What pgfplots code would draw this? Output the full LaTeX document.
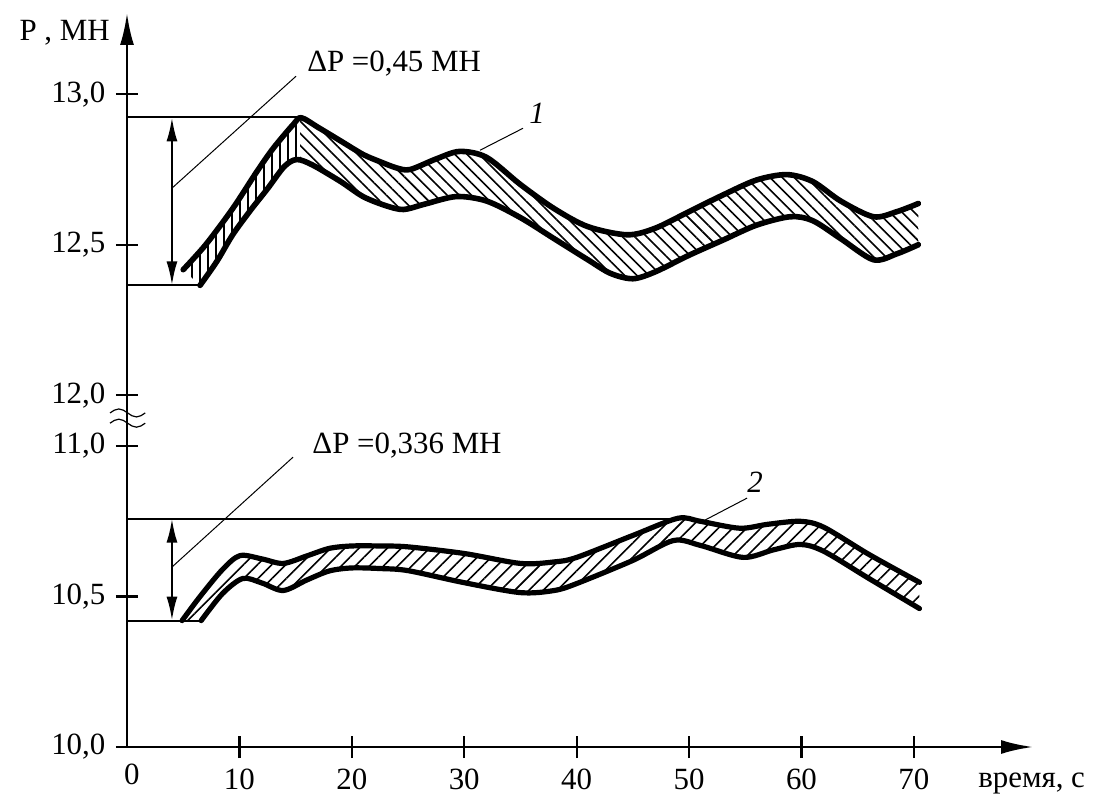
\documentclass[border=0pt]{standalone}
\usepackage{fontspec}
\setmainfont{Liberation Serif}
\usepackage{pgfplots}
\usepackage{pgfplotstable}
\pgfplotsset{compat=1.18}
\usepgfplotslibrary{fillbetween}
\usetikzlibrary{arrows.meta,patterns.meta}
\newcommand\fs{\fontsize{15.5}{18}\selectfont}

% top band (true values, MN); plotted shifted by -0.831 because of the axis break
\pgfplotstableread{
x p
5.0 12.417
7.0 12.50
9.4 12.62
11.5 12.74
13.0 12.82
14.8 12.90
15.5 12.922
17.0 12.89
19.0 12.845
21.0 12.80
22.5 12.776
24.0 12.755
25.2 12.75
27.5 12.785
29.6 12.81
32.0 12.79
35.0 12.70
38.0 12.62
41.0 12.56
44.5 12.533
47.0 12.555
50.0 12.61
53.0 12.665
56.0 12.715
58.7 12.733
61.0 12.71
63.5 12.645
66.4 12.593
68.5 12.61
70.4 12.637
}\upperA
\pgfplotstableread{
x p
6.5 12.365
8.0 12.445
9.4 12.533
11.0 12.615
12.5 12.686
14.0 12.76
15.1 12.783
16.5 12.765
19.0 12.71
21.0 12.66
23.0 12.63
24.6 12.617
26.5 12.635
29.3 12.66
32.0 12.645
35.0 12.59
38.0 12.52
41.0 12.45
43.0 12.405
45.0 12.387
47.0 12.41
50.0 12.465
53.0 12.515
56.0 12.565
59.0 12.593
61.0 12.58
63.5 12.52
66.4 12.45
68.5 12.47
70.4 12.50
}\lowerA
% bottom band
\pgfplotstableread{
x p
4.9 10.42
6.5 10.50
8.5 10.59
10.05 10.636
12.0 10.625
13.9 10.61
16.0 10.635
18.0 10.66
20.0 10.668
22.5 10.668
25.0 10.665
30.0 10.643
35.0 10.61
38.0 10.615
40.0 10.63
45.0 10.703
49.0 10.76
51.0 10.75
54.5 10.727
57.0 10.74
59.9 10.75
62.0 10.73
66.0 10.64
70.5 10.547
}\upperB
\pgfplotstableread{
x p
6.6 10.42
8.5 10.51
10.3 10.56
12.0 10.545
13.9 10.52
16.0 10.555
18.0 10.585
20.0 10.595
22.5 10.593
25.0 10.586
30.0 10.546
35.0 10.513
38.0 10.52
40.0 10.543
45.0 10.62
48.6 10.686
51.0 10.67
54.8 10.63
57.5 10.655
59.9 10.673
62.0 10.65
66.0 10.56
70.5 10.46
}\lowerB

\begin{document}
\fs
\begin{tikzpicture}
\begin{axis}[
  at={(0,0)}, anchor=south west,
  scale only axis, width=453bp, height=367bp,
  xmin=0, xmax=80.6, ymin=10, ymax=12.439,
  enlargelimits=false,
  axis lines=left,
  axis line style={line width=1.4bp, -{Latex[length=16bp,width=7bp]}},
  tick align=center,
  major tick length=11bp,
  tick style={line width=1.1bp, black},
  xtick={10,20,30,40,50,60,70},
  xticklabels={10,20,30,40,50,60,70},
  ytick={10,10.5,11,11.169,11.669,12.169},
  yticklabels={{10,0},{10,5},{11,0},{12,0},{12,5},{13,0}},
  every tick label/.append style={font=\fs},
  clip=false,
]
% invisible boundaries
\addplot[draw=none, name path=uA, smooth] table[x=x, y expr=\thisrow{p}-0.831] {\upperA};
\addplot[draw=none, name path=lA, smooth] table[x=x, y expr=\thisrow{p}-0.831] {\lowerA};
\addplot[draw=none, name path=uB, smooth] table[x=x, y=p] {\upperB};
\addplot[draw=none, name path=lB, smooth] table[x=x, y=p] {\lowerB};
% hatching
\addplot[draw=none, pattern={Lines[angle=90,distance=4bp,line width=0.8bp]}, pattern color=black]
  fill between[of=uA and lA, soft clip={domain=0:15.4}];
\addplot[draw=none, pattern={Lines[angle=-45,distance=4.3bp,line width=0.8bp]}, pattern color=black]
  fill between[of=uA and lA, soft clip={domain=15.4:75}];
\addplot[draw=none, pattern={Lines[angle=45,distance=5bp,line width=0.8bp]}, pattern color=black]
  fill between[of=uB and lB];
% band edges
\addplot[black, line width=2.8bp, smooth, line cap=round, line join=round] table[x=x, y expr=\thisrow{p}-0.831] {\upperA};
\addplot[black, line width=2.8bp, smooth, line cap=round, line join=round] table[x=x, y expr=\thisrow{p}-0.831] {\lowerA};
\addplot[black, line width=2.6bp, smooth, line cap=round, line join=round] table[x=x, y=p] {\upperB};
\addplot[black, line width=2.6bp, smooth, line cap=round, line join=round] table[x=x, y=p] {\lowerB};

% reference lines
\draw[line width=1bp] (axis cs:0,12.092) -- (axis cs:15.4,12.092);
\draw[line width=1bp] (axis cs:0,11.534) -- (axis cs:6.5,11.534);
\draw[line width=1bp] (axis cs:0,10.759) -- (axis cs:48.8,10.759);
\draw[line width=1bp] (axis cs:0,10.42) -- (axis cs:6.6,10.42);
% double arrows
\draw[line width=1.2bp, {Latex[length=12bp,width=5.5bp]}-{Latex[length=12bp,width=5.5bp]}] (axis cs:4,11.534) -- (axis cs:4,12.092);
\draw[line width=1.2bp, {Latex[length=12bp,width=5.5bp]}-{Latex[length=12bp,width=5.5bp]}] (axis cs:4,10.42) -- (axis cs:4,10.759);
% leaders
\draw[line width=0.5bp] (axis cs:4,11.857) -- (axis cs:15.04,12.229);
\draw[line width=0.5bp] (axis cs:4,10.598) -- (axis cs:14.77,10.963);
\draw[line width=0.5bp] (axis cs:31.41,11.983) -- (axis cs:35.23,12.056);
\draw[line width=0.5bp] (axis cs:51.42,10.754) -- (axis cs:55.16,10.827);
% texts
\node[anchor=west, inner sep=0pt, font=\fs] at (axis cs:16.0,12.272) {ΔP =0,45 МН};
\node[anchor=west, inner sep=0pt, font=\fs] at (axis cs:16.46,11.003) {ΔP =0,336 МН};
\node[anchor=east, inner sep=0pt, font=\fs] at (axis cs:-1.5,12.372) {P , МН};
\node[anchor=base west, inner sep=0pt, font=\fs] at (axis cs:75.7,9.864) {время, с};
\node[inner sep=0pt, font=\fs\itshape] at (axis cs:36.48,12.106) {1};
\node[inner sep=0pt, font=\fs\itshape] at (axis cs:55.87,10.880) {2};
\node[inner sep=0pt, font=\fs] at (axis cs:0.44,9.91) {0};
% axis break marks
\draw[line width=0.6bp] (axis cs:-1.51,11.110) sin ++(4.4bp,2bp) cos ++(4.4bp,-2bp) sin ++(4.4bp,-2bp) cos ++(4.4bp,2bp);
\draw[line width=0.6bp] (axis cs:-1.51,11.076) sin ++(4.4bp,2bp) cos ++(4.4bp,-2bp) sin ++(4.4bp,-2bp) cos ++(4.4bp,2bp);
\end{axis}
\pgfresetboundingbox
\path[use as bounding box] (-63.5bp,-23.5bp) rectangle (487bp,373.5bp);
\end{tikzpicture}
\end{document}
